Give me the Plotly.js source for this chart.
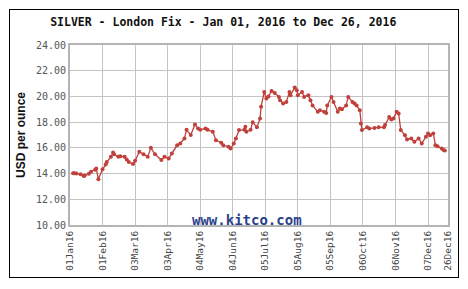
<!DOCTYPE html>
<html>
<head>
<meta charset="utf-8">
<script src="https://cdn.plot.ly/plotly-3.0.1.min.js"></script>
<style>
html,body{margin:0;padding:0;background:#fff;}
#wrap{position:relative;width:468px;height:289px;}
#chart{width:468px;height:289px;}
#frame{position:absolute;left:9px;top:9px;width:448px;height:267px;border:1.5px solid #000;pointer-events:none;}
</style>
</head>
<body>
<div id="wrap"><div id="chart"></div><div id="frame"></div></div>
<script>
const dates = [
 "2016-01-04","2016-01-05","2016-01-07","2016-01-11","2016-01-14","2016-01-15","2016-01-19","2016-01-21","2016-01-25","2016-01-26","2016-01-28",
 "2016-02-01","2016-02-04","2016-02-05","2016-02-09","2016-02-11","2016-02-12","2016-02-16","2016-02-18","2016-02-22","2016-02-24","2016-02-26",
 "2016-03-01","2016-03-03","2016-03-07","2016-03-11","2016-03-15","2016-03-18","2016-03-22","2016-03-28","2016-03-31",
 "2016-04-04","2016-04-07","2016-04-12","2016-04-15","2016-04-19","2016-04-21","2016-04-25","2016-04-29",
 "2016-05-02","2016-05-04","2016-05-09","2016-05-11","2016-05-16","2016-05-19","2016-05-24","2016-05-26","2016-05-31",
 "2016-06-02","2016-06-05","2016-06-07","2016-06-10","2016-06-15","2016-06-16","2016-06-17","2016-06-21","2016-06-23","2016-06-27","2016-06-30",
 "2016-07-01","2016-07-04","2016-07-06","2016-07-08","2016-07-11","2016-07-14","2016-07-18","2016-07-19","2016-07-22","2016-07-25","2016-07-28","2016-07-29",
 "2016-08-02","2016-08-04","2016-08-05","2016-08-09","2016-08-11","2016-08-15","2016-08-17","2016-08-19","2016-08-24","2016-08-26","2016-08-30",
 "2016-09-01","2016-09-02","2016-09-06","2016-09-08","2016-09-12","2016-09-14","2016-09-16","2016-09-20","2016-09-22","2016-09-26","2016-09-28","2016-09-30",
 "2016-10-03","2016-10-04","2016-10-05","2016-10-10","2016-10-12","2016-10-17","2016-10-21","2016-10-26","2016-10-27","2016-10-31",
 "2016-11-02","2016-11-04","2016-11-07","2016-11-09","2016-11-11","2016-11-15","2016-11-17","2016-11-21","2016-11-24","2016-11-28",
 "2016-12-01","2016-12-05","2016-12-07","2016-12-09","2016-12-12","2016-12-14","2016-12-16","2016-12-20","2016-12-22","2016-12-23"
];
const prices = [
 14.03,14.02,14.00,13.95,13.82,13.85,13.98,14.14,14.30,14.40,13.56,
 14.33,14.70,14.90,15.30,15.64,15.50,15.30,15.35,15.30,15.10,14.90,
 14.74,15.00,15.70,15.50,15.30,16.00,15.50,15.05,15.30,
 15.18,15.57,16.20,16.34,16.73,17.40,17.00,17.82,
 17.50,17.40,17.50,17.40,17.25,16.60,16.40,16.20,16.08,
 15.95,16.34,16.73,17.38,17.40,17.64,17.25,17.40,18.00,17.60,18.28,
 19.20,20.35,19.84,20.00,20.43,20.27,19.96,19.70,19.45,19.57,20.35,20.10,
 20.69,20.48,20.10,20.35,19.96,20.10,19.70,19.30,18.80,18.93,18.80,
 18.72,19.30,19.96,19.57,18.80,19.06,19.00,19.30,19.96,19.57,19.45,19.30,
 18.93,17.90,17.38,17.60,17.50,17.55,17.60,17.60,17.77,18.40,
 18.20,18.28,18.80,18.67,17.38,16.99,16.65,16.73,16.47,16.73,
 16.34,16.86,17.12,16.99,17.12,16.21,16.13,15.95,15.82,15.80
];
const tickDates = ["2016-01-01","2016-02-01","2016-03-03","2016-04-03","2016-05-04","2016-06-04","2016-07-05","2016-08-05","2016-09-05","2016-10-06","2016-11-06","2016-12-07","2016-12-26"];
const tickLabels = ["01Jan16","01Feb16","03Mar16","03Apr16","04May16","04Jun16","05Jul16","05Aug16","05Sep16","06Oct16","06Nov16","07Dec16","26Dec16"];
const yTicks = [10,12,14,16,18,20,22,24];

const trace = {
  x: dates, y: prices, type: 'scatter', mode: 'lines+markers',
  line: {color: '#c0403c', width: 1.3},
  marker: {color: '#c0403c', size: 4},
  hoverinfo: 'skip'
};
const layout = {
  width: 468, height: 289,
  margin: {l: 70, r: 20, t: 45, b: 64, pad: 0},
  paper_bgcolor: '#ffffff', plot_bgcolor: '#ffffff',
  showlegend: false,
  title: {text: '<b>SILVER - London Fix - Jan 01, 2016 to Dec 26, 2016</b>',
          font: {family: 'DejaVu Sans Mono', size: 11.5, color: '#111'},
          x: 0.477, xanchor: 'center', y: 0.925, yanchor: 'middle'},
  xaxis: {
    type: 'date', range: ['2016-01-01', '2016-12-26'],
    tickmode: 'array', tickvals: tickDates, ticktext: tickLabels,
    tickangle: -90, tickfont: {family: 'DejaVu Sans Mono', size: 9.5, color: '#444'},
    showgrid: true, gridcolor: '#c4c4c4', gridwidth: 1,
    showline: true, linecolor: '#b4b4b4', linewidth: 2, mirror: true,
    ticks: '', zeroline: false, fixedrange: true
  },
  yaxis: {
    range: [10, 24], tickmode: 'array', tickvals: yTicks, tickformat: '.2f',
    tickfont: {family: 'DejaVu Sans Mono', size: 10, color: '#555'},
    showgrid: true, gridcolor: '#c4c4c4', gridwidth: 1,
    showline: true, linecolor: '#b4b4b4', linewidth: 2, mirror: true,
    ticks: '', ticklen: 0, zeroline: false, fixedrange: true,
    title: {text: '<b>USD per ounce</b>', font: {family: 'Liberation Sans', size: 12, color: '#111'}, standoff: 8}
  },
  annotations: [{
    text: '<b>www.kitco.com</b>', xref: 'paper', yref: 'paper', x: 0.468, y: 0.03,
    xanchor: 'center', yanchor: 'middle', showarrow: false,
    font: {family: 'DejaVu Sans Mono', size: 14, color: '#2b3f8c'}
  }]
};
Plotly.newPlot('chart', [trace], layout, {displayModeBar: false, staticPlot: true});
</script>
</body>
</html>
